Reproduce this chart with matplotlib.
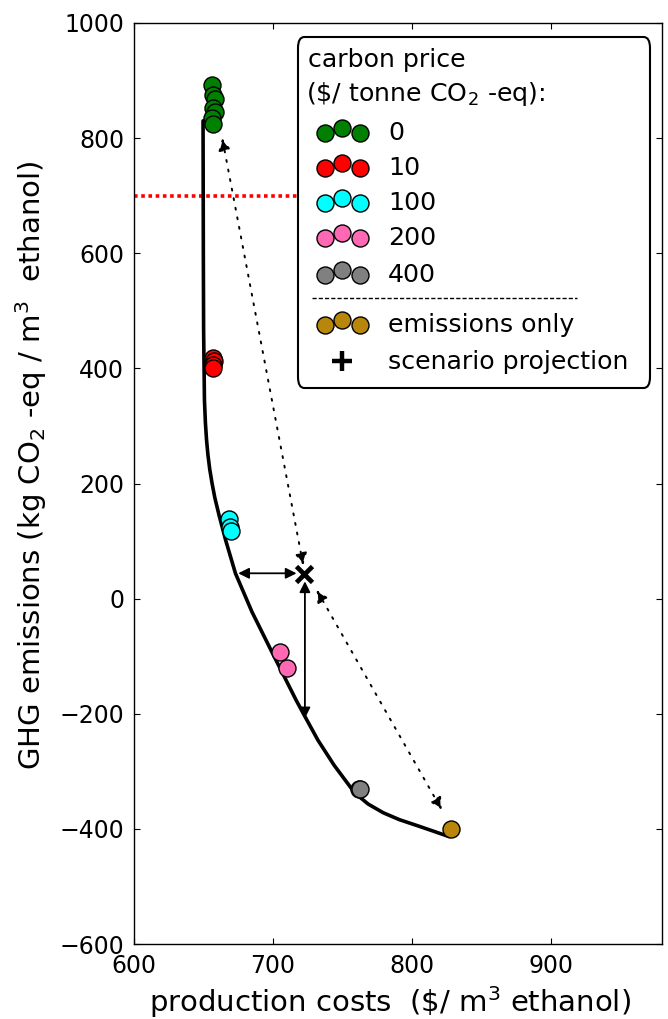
import matplotlib
matplotlib.use('Agg')
import matplotlib.pyplot as plt
from matplotlib.patches import FancyBboxPatch
from matplotlib.lines import Line2D

plt.rcParams['font.family'] = ['DejaVu Sans']
plt.rcParams['mathtext.default'] = 'regular'

# ---------------- data ----------------
carbon_prices = ['0', '10', '100', '200', '400']
price_colors = ['#008000', '#ff0000', '#00ffff', '#ff69b4', '#808080']

green_x = [656, 657, 658, 657, 658, 656, 657]
green_y = [893, 875, 868, 852, 845, 835, 825]
red_x = [657, 657.5, 657, 656.5]
red_y = [418, 412, 405, 400]
cyan_x = [668.4, 669.4, 670.1]
cyan_y = [138, 125, 117]
pink_x = [704.8, 710]
pink_y = [-93, -121]
gray_x = [762.2, 762.6]
gray_y = [-330, -331]
series_x = [green_x, red_x, cyan_x, pink_x, gray_x]
series_y = [green_y, red_y, cyan_y, pink_y, gray_y]

emis_x = [828]
emis_y = [-400]
emis_color = '#b8860b'

proj_x = [722.5]
proj_y = [42]

frontier_x = [651.3, 649.7, 649.9, 650.1, 650.7, 651.4, 652.2, 653.2, 654.5, 656.2,
              658.2, 661.2, 665.9, 673.0, 684.9, 699.3, 716.6, 722.4, 732.4, 743.9,
              759.0, 768.6, 779.4, 791.0, 803.4, 815.5, 827.4]
frontier_y = [831, 830, 606, 467, 345, 305, 276, 250, 225, 200,
              175, 145, 102, 44, -23, -93, -176, -202, -246, -289,
              -338, -357, -372, -384, -394, -404, -414]

threshold_x = [600, 718]
threshold_y = [700, 700]

x_ticks = [600, 700, 800, 900]
y_ticks = [-600, -400, -200, 0, 200, 400, 600, 800, 1000]

# ---------------- figure ----------------
W, H = 668, 1019
fig = plt.figure(figsize=(W / 100, H / 100), dpi=100)
ax_l, ax_r, ax_t, ax_b = 134, 662, 23, 944
ax = fig.add_axes([ax_l / W, 1 - ax_b / H, (ax_r - ax_l) / W, (ax_b - ax_t) / H])
ax.set_xlim(600, 980)
ax.set_ylim(-600, 1000)
ax.set_xticks(x_ticks)
ax.set_yticks(y_ticks)
ax.tick_params(direction='in', length=4, width=0.8, top=True, right=True,
               labelsize=17, pad=7)
for s in ax.spines.values():
    s.set_linewidth(1.0)

ax.plot(threshold_x, threshold_y, color='red', lw=2.6, ls=(0, (1, 1)), zorder=1)
ax.plot(frontier_x, frontier_y, color='black', lw=2.6, zorder=2,
        solid_joinstyle='round', solid_capstyle='butt')

for xs, ys, c in zip(series_x, series_y, price_colors):
    ax.scatter(xs, ys, s=150, c=c, edgecolors='black', linewidths=1.0, zorder=4)
ax.scatter(emis_x, emis_y, s=150, c=emis_color, edgecolors='black', linewidths=1.0, zorder=4)
ax.plot(proj_x, proj_y, marker='x', ms=12, mew=3.4, color='black', ls='none', zorder=5)

solid = dict(arrowstyle='<|-|>', color='black', lw=1.3, mutation_scale=16,
             shrinkA=0, shrinkB=0)
ax.annotate('', xy=(675, 44), xytext=(717, 44), arrowprops=solid, zorder=3)
ax.annotate('', xy=(723, -208), xytext=(723, 30), arrowprops=solid, zorder=3)
dotted = dict(arrowstyle='<|-|>', color='black', lw=1.4, ls=(0, (1, 4)),
              mutation_scale=18, shrinkA=0, shrinkB=0)
ax.annotate('', xy=(663.5, 800), xytext=(721.8, 58), arrowprops=dotted, zorder=3)
ax.annotate('', xy=(821.5, -367), xytext=(731.5, 15), arrowprops=dotted, zorder=3)

ax.set_xlabel(r'production costs  (\$/ m$^3$ ethanol)', fontsize=21)
ax.xaxis.set_label_coords((390 - ax_l) / (ax_r - ax_l), -0.044)
ax.set_ylabel(r'GHG emissions (kg CO$_2$ -eq / m$^3$  ethanol)', fontsize=21)
ax.yaxis.set_label_coords((49 - ax_l) / (ax_r - ax_l), (ax_b - 465) / (ax_b - ax_t))

# ---------------- custom legend ----------------
def fx(px):
    return (px - ax_l) / (ax_r - ax_l)

def fy(py):
    return (ax_b - py) / (ax_b - ax_t)

T = ax.transAxes
LF = 18.2
box = FancyBboxPatch((fx(298), fy(388)), fx(650) - fx(298), fy(37) - fy(388),
                     boxstyle='round,pad=0,rounding_size=0.012', transform=T,
                     facecolor='white', edgecolor='black', lw=1.5, zorder=10,
                     clip_on=False)
ax.add_patch(box)
ax.text(fx(308), fy(60), 'carbon price', transform=T, fontsize=LF,
        va='center', ha='left', zorder=11)
ax.text(fx(306), fy(94), r'(\$/ tonne CO$_2$ -eq):', transform=T, fontsize=LF,
        va='center', ha='left', zorder=11)

entry_y = [133, 168, 203, 238, 275]
dot_px = [325, 342, 360]
dot_dy = [0, -5, 0]

def legend_dots(py, color):
    ax.scatter([fx(p) for p in dot_px], [fy(py + d) for d in dot_dy], s=150, c=color,
               edgecolors='black', linewidths=1.0, transform=T, zorder=11, clip_on=False)

for lab, c, py in zip(carbon_prices, price_colors, entry_y):
    legend_dots(py, c)
    ax.text(fx(388), fy(py), lab, transform=T, fontsize=LF, va='center', ha='left', zorder=11)

ax.add_line(Line2D([fx(312), fx(577)], [fy(298), fy(298)], transform=T, color='black',
                   lw=1.0, ls=(0, (3, 1.5)), zorder=11))
legend_dots(325, emis_color)
ax.text(fx(388), fy(325), 'emissions only', transform=T, fontsize=LF, va='center',
        ha='left', zorder=11)
ax.plot([fx(342)], [fy(361)], marker='+', ms=14, mew=3.2, color='black', transform=T,
        zorder=11, clip_on=False)
ax.text(fx(388), fy(362), 'scenario projection', transform=T, fontsize=LF, va='center',
        ha='left', zorder=11)

fig.savefig('out.png', dpi=100)
